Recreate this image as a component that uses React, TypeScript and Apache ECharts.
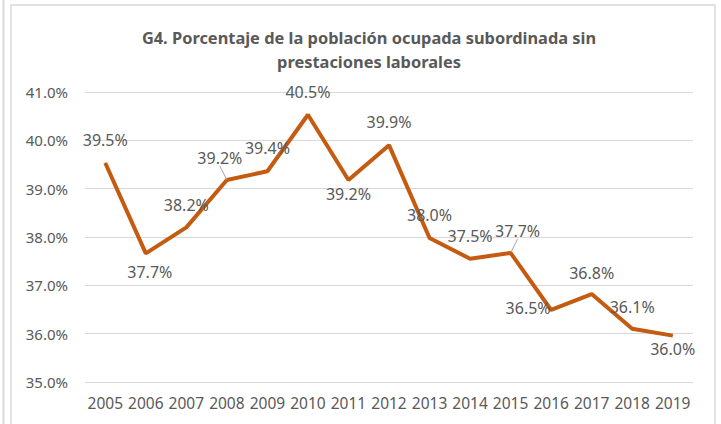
import React, { useEffect, useRef } from "react";
import * as echarts from "echarts";

const years = ["2005","2006","2007","2008","2009","2010","2011","2012","2013","2014","2015","2016","2017","2018","2019"];
const values = [39.53, 37.66, 38.2, 39.18, 39.36, 40.53, 39.18, 39.9, 37.98, 37.55, 37.67, 36.49, 36.82, 36.1, 35.96];
const titleText = "G4. Porcentaje de la población ocupada subordinada sin\nprestaciones laborales";
const yMin = 35;
const yMax = 41;
const yStep = 1;

// label placement relative to each point (styling only)
const labelShift: [number, number][] = [
  [0, -23], [4, 19], [0, -22], [-7, -22], [0, -23], [0, -23], [0, 14], [0, -23],
  [0, -23], [0, -23], [7, -22], [-23, -2], [0, -21], [0, -22], [0, 13],
];
const leaderIdx = [3, 10];

const TEXT = "#595959";
const GRID = "#D9D9D9";
const LINE = "#C55A11";
const FONT = "'Noto Sans'";

export default function App() {
  const ref = useRef<HTMLDivElement>(null);
  useEffect(() => {
    if (!ref.current) return;
    const chart = echarts.init(ref.current, null, { renderer: "svg" });
    chart.setOption({
      animation: false,
      backgroundColor: "#ffffff",
      title: {
        text: titleText,
        left: 364,
        top: 20,
        textAlign: "center",
        textStyle: { color: TEXT, fontSize: 16.4, fontWeight: "bold", fontFamily: FONT, lineHeight: 24 },
      },
      graphic: [
        { type: "line", shape: { x1: 3.5, y1: 0, x2: 3.5, y2: 424 }, style: { stroke: GRID, lineWidth: 2 }, silent: true },
        { type: "rect", shape: { x: 11, y: 5, width: 704, height: 430 }, style: { fill: "none", stroke: GRID, lineWidth: 1.5 }, silent: true },
      ],
      grid: { left: 85, right: 28, top: 92, bottom: 42 },
      xAxis: {
        type: "category",
        data: years,
        boundaryGap: true,
        axisLine: { show: false },
        axisTick: { show: false },
        axisLabel: { color: TEXT, fontSize: 15.5, fontFamily: FONT, margin: 13, interval: 0 },
      },
      yAxis: {
        type: "value",
        min: yMin,
        max: yMax,
        interval: yStep,
        axisLine: { show: false },
        axisTick: { show: false },
        splitLine: { lineStyle: { color: GRID, width: 1 } },
        axisLabel: {
          color: TEXT,
          fontSize: 15,
          fontFamily: FONT,
          margin: 17,
          formatter: (v: number) => v.toFixed(1) + "%",
        },
      },
      series: [
        {
          type: "line",
          data: values.map((v, i) => ({
            value: v,
            labelLine: { show: leaderIdx.includes(i), lineStyle: { color: "#A6A6A6", width: 1 } },
          })),
          symbol: "circle",
          symbolSize: 1,
          showSymbol: true,
          itemStyle: { color: LINE },
          lineStyle: { color: LINE, width: 4 },
          label: {
            show: true,
            position: "inside",
            color: TEXT,
            fontSize: 16,
            fontFamily: FONT,
            formatter: (p: any) => Number(p.value).toFixed(1) + "%",
          },
          labelLayout: (p: any) => ({ dx: labelShift[p.dataIndex][0], dy: labelShift[p.dataIndex][1] }),
          emphasis: { disabled: true },
        },
      ],
    });
    return () => chart.dispose();
  }, []);
  return <div ref={ref} style={{ position: "absolute", left: 0, top: 0, width: 721, height: 424 }} />;
}
